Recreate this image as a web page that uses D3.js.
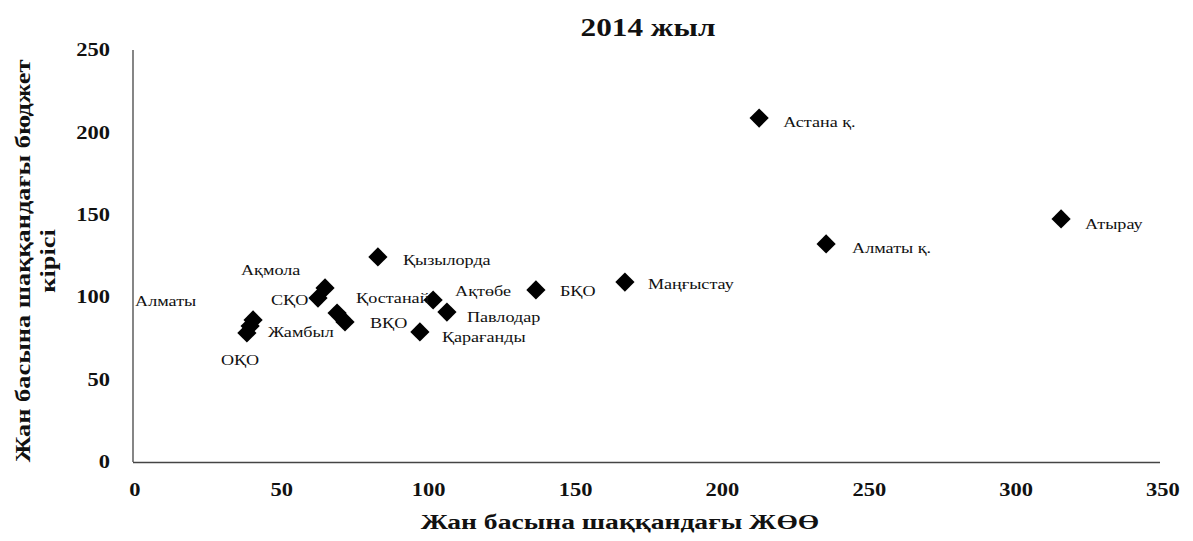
<!DOCTYPE html>
<html><head><meta charset="utf-8">
<script src="https://cdn.jsdelivr.net/npm/d3@7"></script>
<style>
html,body{margin:0;padding:0;background:#fff;}
text{font-family:"Liberation Serif","Times New Roman",serif;fill:#111;}
</style></head>
<body><svg id="c" width="1193" height="541"></svg>
<script>
const regions = ["Астана қ.","Алматы қ.","Атырау","Маңғыстау","БҚО","Қызылорда","Ақтөбе","Павлодар","Қарағанды","Қостанай","ВҚО","Ақмола","СҚО","Жамбыл","ОҚО","Алматы"];
const grpPerCapita = [212.5,235.3,315.3,166.8,136.5,82.7,101.5,106.2,97.0,68.8,71.5,64.7,62.3,40.2,38.1,39.2];
const budgetPerCapita = [208.7,132.3,147.5,109.2,104.4,124.4,98.3,91.0,78.9,90.4,85.0,105.6,99.5,86.2,78.3,82.5];
const xTicks = [0,50,100,150,200,250,300,350];
const yTicks = [0,50,100,150,200,250];
const title = "2014 жыл";
const xTitle = "Жан басына шаққандағы ЖӨӨ";
const yTitleLines = ["Жан басына шаққандағы бюджет","кірісі"];
// label offsets (px) relative to the marker, as placed in the original
const labelDx = [24,26,24,23,24,25,22,20,22,19,25,-84,-47,15,-26,-115];
const labelDy = [4,4,5,2,1,3,-9,5,5,-15,1,-18,2,12,27,-25];

const svg = d3.select("#c");
const x = d3.scaleLinear().domain([0,350]).range([135,1163]);
const y = d3.scaleLinear().domain([0,250]).range([462,50]);
const sx = 1.25; // horizontal stretch of the scanned text

function stretched(sel, anchorX, k){
  const s = k || sx;
  sel.attr("transform", d => `translate(${anchorX(d)},0) scale(${s},1) translate(${-anchorX(d)},0)`);
}

// axes lines
svg.append("line").attr("x1",x(0)-2).attr("x2",x(0)-2).attr("y1",y(250)).attr("y2",y(0))
  .attr("stroke","#444").attr("stroke-width",1.3);
svg.append("line").attr("x1",x(0)-2).attr("x2",x(350)-3).attr("y1",y(0)+0.5).attr("y2",y(0)+0.5)
  .attr("stroke","#444").attr("stroke-width",1.3);

// tick labels
svg.selectAll("text.yt").data(yTicks).join("text").attr("class","yt")
  .attr("x",110).attr("y",d=>y(d)).attr("dy","0.35em").attr("text-anchor","end")
  .attr("font-size",18).attr("font-weight","bold").text(d=>d)
  .call(stretched, ()=>110);
svg.selectAll("text.xt").data(xTicks).join("text").attr("class","xt")
  .attr("x",d=>x(d)).attr("y",496).attr("text-anchor","middle")
  .attr("font-size",18).attr("font-weight","bold").text(d=>d)
  .call(stretched, d=>x(d));

// titles
svg.append("text").attr("x",648).attr("y",36).attr("text-anchor","middle")
  .attr("font-size",25).attr("font-weight","bold").text(title)
  .call(stretched, ()=>648);
svg.append("text").attr("x",620).attr("y",529).attr("text-anchor","middle")
  .attr("font-size",20).attr("font-weight","bold").text(xTitle)
  .call(stretched, ()=>620, 1.38);
const yt = svg.append("g").attr("transform","translate(30,261) rotate(-90)");
yt.selectAll("text").data(yTitleLines).join("text")
  .attr("x",0).attr("y",(d,i)=>i*25).attr("text-anchor","middle")
  .attr("font-size",20).attr("font-weight","bold").text(d=>d)
  .attr("transform",`scale(1.32,1)`);

// points
const pts = regions.map((r,i)=>({r, gx:grpPerCapita[i], by:budgetPerCapita[i], dx:labelDx[i], dy:labelDy[i]}));
const sym = d3.symbol().type(d3.symbolSquare).size(185);
svg.selectAll("path.pt").data(pts).join("path").attr("class","pt")
  .attr("d",sym).attr("fill","#000")
  .attr("transform",d=>`translate(${x(d.gx)},${y(d.by)}) rotate(45)`);

svg.selectAll("text.lb").data(pts).join("text").attr("class","lb")
  .attr("x",d=>x(d.gx)+d.dx).attr("y",d=>y(d.by)+d.dy).attr("dy","0.35em")
  .attr("font-size",14.5).text(d=>d.r)
  .call(stretched, d=>x(d.gx)+d.dx);
</script></body></html>
